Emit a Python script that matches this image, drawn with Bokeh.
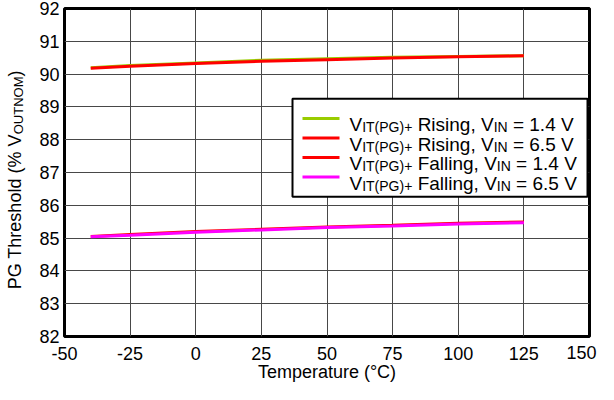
import math
from bokeh.plotting import figure
from bokeh.models import Label, Range1d, LinearAxis
from bokeh.layouts import row
from bokeh.embed import file_html
from bokeh.resources import INLINE

# ---- data ----
temperature_c = [-40, -25, 0, 25, 50, 75, 100, 125]
rising_vin_1v4 = [90.19, 90.26, 90.34, 90.42, 90.47, 90.51, 90.54, 90.56]
rising_vin_6v5 = [90.18, 90.24, 90.32, 90.39, 90.44, 90.49, 90.53, 90.56]
falling_vin_1v4 = [85.05, 85.11, 85.20, 85.27, 85.34, 85.39, 85.45, 85.49]
falling_vin_6v5 = [85.04, 85.09, 85.18, 85.25, 85.32, 85.37, 85.43, 85.47]

x_ticks = [-50, -25, 0, 25, 50, 75, 100, 125, 150]
y_ticks = [82, 83, 84, 85, 86, 87, 88, 89, 90, 91, 92]

series_colors = ["#99CC00", "#FF0000", "#FF0000", "#FF00FF"]
series_edges = ["Rising", "Rising", "Falling", "Falling"]
series_vin = ["1.4", "6.5", "1.4", "6.5"]

x_label = "Temperature (°C)"
y_label_parts = ["PG Threshold (% V", "OUTNOM", ")"]

# ---- layout (F = page pixels inside the 8px margin; I = F + 8) ----
FONT = "Liberation Sans"
W, H = 598, 384
LW = 30                       # left strip holding the rotated y label
MW = W - LW
LEFT, RIGHT, TOP, BOTTOM = 34, 9, 8, 45
X0, X1, Y0, Y1 = -50, 150, 82, 92
fw = MW - LEFT - RIGHT
fh = H - TOP - BOTTOM
sx = fw / (X1 - X0)
sy = fh / (Y1 - Y0)
FRAME_IX = 8 + LW + LEFT
FRAME_IY = 8 + TOP


def dxI(ix):
    return X0 + (ix - FRAME_IX) / sx


def dyI(iy):
    return Y1 - (iy - FRAME_IY) / sy


# Arial / Liberation Sans advance widths (per 1000 em)
AW = {" ": 278, "(": 333, ")": 333, "+": 584, ",": 278, "-": 333, ".": 278, "=": 584,
      "%": 889, "°": 400}
for c in "0123456789":
    AW[c] = 556
AW.update(dict(A=667, B=667, C=722, D=722, E=667, F=611, G=778, H=722, I=278, J=500,
               K=667, L=556, M=833, N=722, O=778, P=667, Q=778, R=722, S=667, T=611,
               U=722, V=667, W=944))
AW.update(dict(a=556, b=556, c=500, d=556, e=556, f=278, g=556, h=556, i=222, j=222,
               k=500, l=222, m=833, n=556, o=556, p=556, q=556, r=333, s=500, t=278,
               u=556, v=500, w=722, x=500, y=500, z=500))


def tw(s, size):
    return sum(AW.get(c, 556) for c in s) * size / 1000.0


# ---------------- main plot ----------------
p = figure(width=MW, height=H, x_range=Range1d(X0, X1), y_range=Range1d(Y0, Y1),
           output_backend="svg", toolbar_location=None,
           min_border_left=LEFT, min_border_right=RIGHT,
           min_border_top=TOP, min_border_bottom=BOTTOM)
p.background_fill_color = "white"
p.border_fill_color = "white"
p.outline_line_color = "black"
p.outline_line_width = 3

# extra range only used to keep the last tick label inside the window
d = 3.0
p.extra_x_ranges = {"lab": Range1d(X0 + d, X1 + d)}
ax150 = LinearAxis(x_range_name="lab", ticker=[x_ticks[-1]], axis_label=x_label)
p.add_layout(ax150, "below")

p.xaxis[0].ticker = x_ticks[:-1]
p.xaxis[0].major_label_overrides = {-50: "-50", -25: "-25"}
p.yaxis.ticker = y_ticks
for ax in list(p.xaxis) + list(p.yaxis):
    ax.axis_line_color = None
    ax.major_tick_line_color = None
    ax.minor_tick_line_color = None
    ax.major_tick_out = 0
    ax.major_tick_in = 0
    ax.minor_tick_out = 0
    ax.minor_tick_in = 0
    ax.major_label_text_font = FONT
    ax.major_label_text_font_size = "18px"
    ax.major_label_text_color = "black"
    ax.axis_label_text_font = FONT
    ax.axis_label_text_font_size = "18px"
    ax.axis_label_text_font_style = "normal"
    ax.axis_label_text_color = "black"
p.xaxis[0].major_label_standoff = 10
p.yaxis.major_label_standoff = 5
ax150.major_label_standoff = -17
ax150.axis_label_standoff = 0

p.xgrid.ticker = x_ticks
p.ygrid.ticker = y_ticks
for g in (p.xgrid, p.ygrid):
    g.grid_line_color = "#484848"
    g.grid_line_width = 1

# data lines
for ys, color in zip([rising_vin_1v4, rising_vin_6v5, falling_vin_1v4, falling_vin_6v5],
                     series_colors):
    p.line(temperature_c, ys, line_color=color, line_width=3)

# legend box
p.quad(left=[dxI(300)], right=[dxI(595)], top=[dyI(107)], bottom=[dyI(206)],
       fill_color="white", line_color="black", line_width=2)

MAIN, SUB = 19, 14
for i, (color, edge, vin) in enumerate(zip(series_colors, series_edges, series_vin)):
    cy = 127 + 19.7 * i
    p.line([dxI(310), dxI(347)], [dyI(cy), dyI(cy)], line_color=color, line_width=3)
    base = cy + 6.3
    xpos = 357.0
    parts = [("V", MAIN, 0), ("IT(PG)+", SUB, 2.7), (" %s, V" % edge, MAIN, 0),
             ("IN", SUB, 2.7), (" = %s V" % vin, MAIN, 0)]
    for txt, size, shift in parts:
        lead = len(txt) - len(txt.lstrip(" "))
        xpos += tw(" " * lead, size)
        core = txt.strip(" ")
        p.add_layout(Label(x=dxI(xpos), y=dyI(base + shift), text=core, text_font=FONT,
                           text_font_size="%dpx" % size, text_align="left",
                           text_baseline="alphabetic", text_color="black"))
        xpos += tw(core, size)

# ---------------- left strip: y axis label with subscript ----------------
pl = figure(frame_width=LW, frame_height=H, x_range=Range1d(0, LW), y_range=Range1d(0, H),
            x_axis_type=None, y_axis_type=None, output_backend="svg",
            toolbar_location=None, min_border=0, min_border_left=0, min_border_right=0,
            min_border_top=0, min_border_bottom=0)
pl.outline_line_color = None
pl.background_fill_color = "white"
pl.border_fill_color = "white"

YL_MAIN, YL_SUB = 18, 13
yparts = [(y_label_parts[0], YL_MAIN, 0.0), (y_label_parts[1], YL_SUB, 2.5),
          (y_label_parts[2], YL_MAIN, 0.0)]
total = sum(tw(t, s) for t, s, _ in yparts)
fy = (70.0 - 8) + total          # bottom end of the text, in F pixels from the top
base_x = 27.7 - 8                # baseline of the rotated text, F pixels
for txt, size, shift in yparts:
    w = tw(txt, size)
    cx = base_x + shift - 0.31 * size
    cyF = fy - w / 2.0
    pl.add_layout(Label(x=cx, y=H - cyF, text=txt, text_font=FONT,
                        text_font_size="%dpx" % size, angle=math.pi / 2,
                        text_align="center", text_baseline="middle",
                        text_color="black"))
    fy -= w

layout = row(pl, p)
open("out.html", "w").write(file_html(layout, INLINE))
